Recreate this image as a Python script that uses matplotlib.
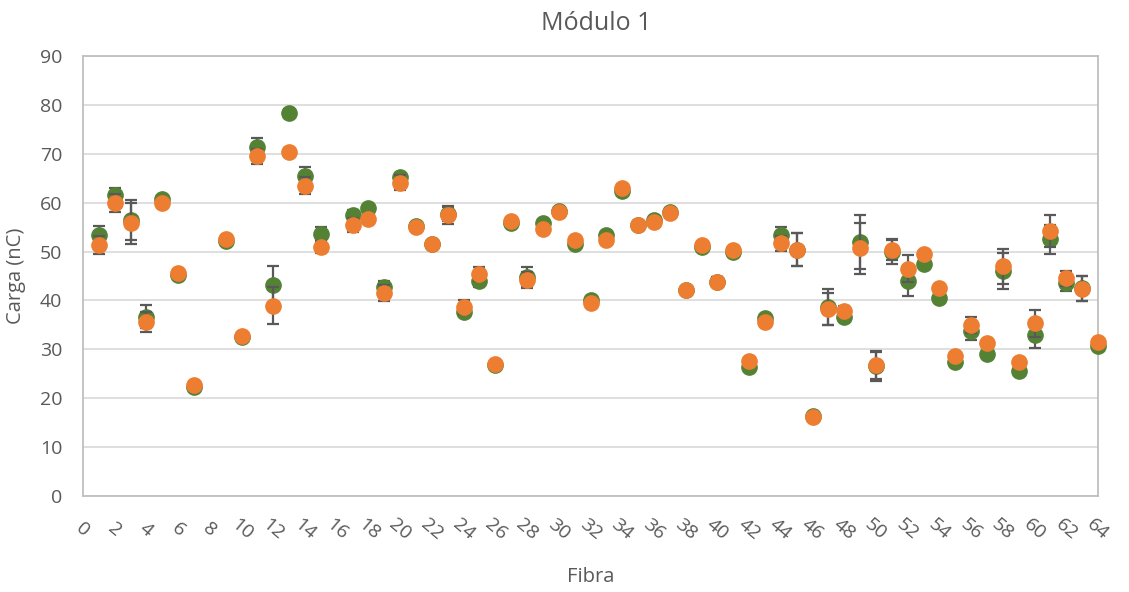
import matplotlib
matplotlib.use("Agg")
import matplotlib.pyplot as plt

# fibras 8 e 16 sem dados
fibra = [1, 2, 3, 4, 5, 6, 7, 9, 10, 11, 12, 13, 14, 15, 17, 18, 19, 20, 21, 22,
         23, 24, 25, 26, 27, 28, 29, 30, 31, 32, 33, 34, 35, 36, 37, 38, 39, 40, 41, 42,
         43, 44, 45, 46, 47, 48, 49, 50, 51, 52, 53, 54, 55, 56, 57, 58, 59, 60, 61, 62,
         63, 64]
carga_verde = [53.4, 61.5, 56.4, 36.7, 60.8, 45.3, 22.3, 52.1, 32.6, 71.4, 43.1, 78.3, 65.4, 53.6, 57.4, 58.9, 42.7, 65.2, 55.2, 51.6,
               57.7, 37.6, 43.9, 26.7, 55.8, 44.8, 55.8, 58.3, 51.6, 40.1, 53.3, 62.4, 55.5, 56.4, 58.1, 42.2, 50.9, 43.8, 49.9, 26.4,
               36.4, 53.3, 50.4, 16.3, 38.7, 36.6, 51.9, 26.6, 49.9, 44.0, 47.4, 40.6, 27.4, 33.7, 29.1, 46.1, 25.6, 32.9, 52.5, 43.6,
               42.5, 30.6]
erro_verde = [1.8, 1.6, 4.1, 2.3, 0.3, 0.3, 0.3, 0.3, 0.2, 1.9, 3.9, 0.9, 1.9, 1.4, 1.2, 0.3, 1.3, 0.9, 0.3, 0.2,
              1.5, 0.7, 1.2, 0.2, 0.3, 2.0, 0.3, 0.6, 0.3, 0.3, 0.3, 0.3, 0.8, 0.5, 0.9, 0.2, 0.3, 0.9, 0.3, 0.3,
              0.3, 1.7, 3.4, 0.2, 3.7, 0.9, 5.5, 3.0, 2.4, 3.0, 0.3, 0.3, 0.3, 1.7, 0.3, 3.7, 0.6, 2.6, 2.9, 1.7,
              2.6, 0.3]
carga_laranja = [51.3, 59.9, 55.8, 35.6, 59.9, 45.7, 22.8, 52.5, 32.8, 69.5, 38.9, 70.3, 63.5, 50.9, 55.5, 56.7, 41.5, 64.1, 55.0, 51.6,
                 57.5, 38.6, 45.4, 26.9, 56.2, 44.2, 54.7, 58.1, 52.3, 39.5, 52.4, 62.9, 55.5, 56.0, 57.9, 42.1, 51.3, 43.8, 50.4, 27.7,
                 35.6, 51.7, 50.4, 16.2, 38.3, 37.8, 50.7, 26.7, 50.4, 46.5, 49.4, 42.6, 28.6, 35.0, 31.3, 47.0, 27.4, 35.3, 54.2, 44.5,
                 42.4, 31.5]
erro_laranja = [1.8, 1.8, 4.2, 2.1, 0.3, 0.3, 0.3, 0.3, 0.2, 1.5, 3.8, 0.8, 1.7, 1.2, 1.4, 0.3, 1.6, 1.5, 0.3, 0.2,
                1.8, 1.4, 1.4, 0.2, 0.3, 1.6, 0.3, 0.6, 0.3, 0.3, 0.3, 0.3, 0.8, 0.5, 0.8, 0.2, 0.3, 0.9, 0.3, 0.3,
                0.3, 1.5, 3.4, 0.2, 3.3, 1.1, 5.2, 2.8, 2.2, 2.7, 0.3, 0.3, 0.3, 1.7, 0.3, 3.6, 0.6, 2.7, 3.2, 1.6,
                2.5, 0.3]

cinza = "#595959"
plt.rcParams['font.family'] = ['Open Sans', 'DejaVu Sans']

fig = plt.figure(figsize=(11.29, 5.92), dpi=100)
ax = fig.add_axes([83/1129, 1-496/592, 1015/1129, 440/592])

ax.errorbar(fibra, carga_verde, yerr=erro_verde, fmt='o', color='#548235', ms=11,
            ecolor=cinza, elinewidth=1.6, capsize=4.5, capthick=1.6, zorder=3, clip_on=False)
ax.errorbar(fibra, carga_laranja, yerr=erro_laranja, fmt='o', color='#ED7D31', ms=11,
            ecolor=cinza, elinewidth=1.6, capsize=4.5, capthick=1.6, zorder=4, clip_on=False)

ax.set_xlim(0, 64)
ax.set_ylim(0, 90)
ax.set_xticks(range(0, 65, 2))
ax.set_yticks(range(0, 91, 10))
ax.grid(axis='y', color='#D9D9D9', linewidth=1.2)
ax.set_axisbelow(True)
for s in ax.spines.values():
    s.set_color('#BFBFBF')
    s.set_linewidth(1.3)

ax.tick_params(axis='both', length=0, colors=cinza, labelsize=14)
ax.tick_params(axis='y', pad=15)
ax.tick_params(axis='x', pad=24)
for lbl in ax.get_xticklabels():
    lbl.set_rotation(-40)
    lbl.set_rotation_mode('anchor')
    lbl.set_ha('center')
    lbl.set_va('center')

ax.set_title("Módulo 1", fontsize=18, color=cinza, pad=19, x=0.506)
ax.set_xlabel("Fibra", fontsize=14.5, color=cinza, labelpad=17)
ax.set_ylabel("Carga (nC)", fontsize=14.5, color=cinza, labelpad=10)

fig.savefig("out.png", dpi=100)
